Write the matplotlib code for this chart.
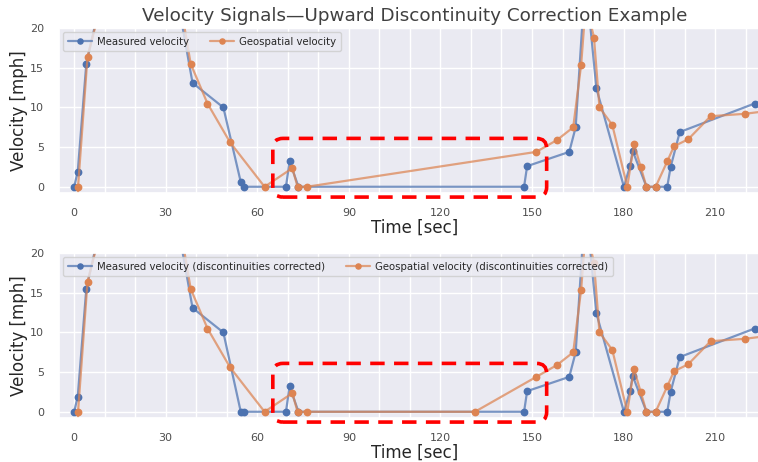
import matplotlib
matplotlib.use("Agg")
import matplotlib.pyplot as plt
from matplotlib.patches import FancyBboxPatch
from matplotlib.ticker import MultipleLocator
from matplotlib.colors import to_rgba
import seaborn as sns

# measured velocity (raw)
t_meas = [0, 1.2, 4.0, 9, 16, 23, 29, 33, 38.8, 48.9, 54.6, 55.8, 69.4, 70.6, 73.5,
          147.4, 148.4, 162.2, 164.3, 167.5, 171.1, 180.1, 182.1, 183.0, 187.5,
          190.5, 194.3, 195.4, 198.4, 222.9]
v_meas = [0, 1.9, 15.5, 24, 26.5, 27, 26.5, 25.6, 13.1, 10.0, 0.6, 0, 0, 3.2, 0,
          0, 2.6, 4.4, 7.5, 26.6, 12.4, 0, 2.6, 4.5, 0,
          0, 0, 2.5, 6.9, 10.5]

# geospatial velocity (raw)
t_geo = [0, 1.3, 4.4, 9.5, 16, 23, 30, 33.5, 38.2, 43.7, 51.1, 62.4, 71.5, 73.2, 76.2,
         151.4, 158.2, 163.5, 166.1, 167.7, 170.3, 172.1, 176.3, 181.2, 183.4, 185.6,
         187.5, 190.5, 194.3, 196.5, 201.2, 208.5, 219.7, 230]
v_geo = [-25, 0, 16.4, 24, 26.5, 27.5, 26.5, 26.1, 15.5, 10.5, 5.6, 0, 2.35, 0, 0,
         4.4, 5.9, 7.5, 15.4, 23.5, 18.8, 10.0, 7.8, 0, 5.4, 2.5,
         0, 0, 3.2, 5.1, 6.0, 8.9, 9.2, 9.7]

# corrected versions
t_meas_fix = t_meas
v_meas_fix = [0, 1.9, 15.5, 24, 26.5, 27, 26.5, 25.6, 13.1, 10.0, 0, 0, 0, 3.2, 0,
              0, 2.6, 4.4, 7.5, 26.6, 12.4, 0, 2.6, 4.5, 0,
              0, 0, 2.5, 6.9, 10.5]
t_geo_fix = [0, 1.3, 4.4, 9.5, 16, 23, 30, 33.5, 38.2, 43.7, 51.1, 62.4, 71.5, 73.2, 76.2,
             131.3, 151.4, 158.2, 163.5, 166.1, 167.7, 170.3, 172.1, 176.3, 181.2, 183.4,
             185.6, 187.5, 190.5, 194.3, 196.5, 201.2, 208.5, 219.7, 230]
v_geo_fix = [-25, 0, 16.4, 24, 26.5, 27.5, 26.5, 26.1, 15.5, 10.5, 5.6, 0, 2.35, 0, 0,
             0, 4.4, 5.9, 7.5, 15.4, 23.5, 18.8, 10.0, 7.8, 0, 5.4,
             2.5, 0, 0, 3.2, 5.1, 6.0, 8.9, 9.2, 9.7]

# highlighted region (time, velocity)
box_t = (65.1, 154.8)
box_v = (-1.3, 6.1)

sns.set_theme(style="darkgrid")
blue, orange = sns.color_palette("deep")[:2]

fig = plt.figure(figsize=(7.58, 4.62), dpi=100)
# the axes run a little past the right edge of the picture, as in the original crop
ax1 = fig.add_axes([0.078, 0.582, 0.938, 0.357])
ax2 = fig.add_axes([0.078, 0.095, 0.938, 0.357])


def draw_panel(ax, tm, vm, tg, vg, lab_m, lab_g):
    ax.plot(tm, vm, marker='o', ms=4.6, lw=1.6, color=to_rgba(blue, 0.72),
            mfc=blue, mec=blue, label=lab_m)
    ax.plot(tg, vg, marker='o', ms=4.6, lw=1.6, color=to_rgba(orange, 0.72),
            mfc=orange, mec=orange, label=lab_g)
    ax.set_xlim(-4.9, 228)
    ax.set_ylim(-0.8, 20)
    ax.xaxis.set_major_locator(MultipleLocator(30))
    ax.xaxis.set_minor_locator(MultipleLocator(10))
    ax.yaxis.set_major_locator(MultipleLocator(5))
    ax.grid(which='minor', axis='x', color='white', lw=1)
    ax.tick_params(labelsize=8, pad=5, colors='#4d4d4d')
    ax.set_xlabel('Time [sec]', fontsize=12, labelpad=0)
    ax.set_ylabel('Velocity [mph]', fontsize=12, labelpad=1)
    ax.legend(loc='upper left', ncol=2, fontsize=7.3, borderaxespad=0.4,
              borderpad=0.45, handlelength=2.4, handletextpad=0.5,
              columnspacing=2.0, markerscale=0.8, framealpha=0.8)

    # dashed rounded box, corners kept round in pixel space
    p0 = ax.transData.transform((0, 0))
    p1 = ax.transData.transform((1, 1))
    aspect = (p1[0] - p0[0]) / (p1[1] - p0[1])
    box = FancyBboxPatch((box_t[0], box_v[0]), box_t[1] - box_t[0], box_v[1] - box_v[0],
                         boxstyle="round,pad=0,rounding_size=3.3",
                         mutation_aspect=aspect, fill=False, ec='red', lw=2.6,
                         linestyle=(0, (4, 2.6)), clip_on=False, zorder=5)
    ax.add_patch(box)


draw_panel(ax1, t_meas, v_meas, t_geo, v_geo,
           'Measured velocity', 'Geospatial velocity')
draw_panel(ax2, t_meas_fix, v_meas_fix, t_geo_fix, v_geo_fix,
           'Measured velocity (discontinuities corrected)',
           'Geospatial velocity (discontinuities corrected)')
ax1.set_title('Velocity Signals\u2014Upward Discontinuity Correction Example',
              fontsize=13.2, color='#404040', pad=5)

fig.savefig('out.png', dpi=100)
